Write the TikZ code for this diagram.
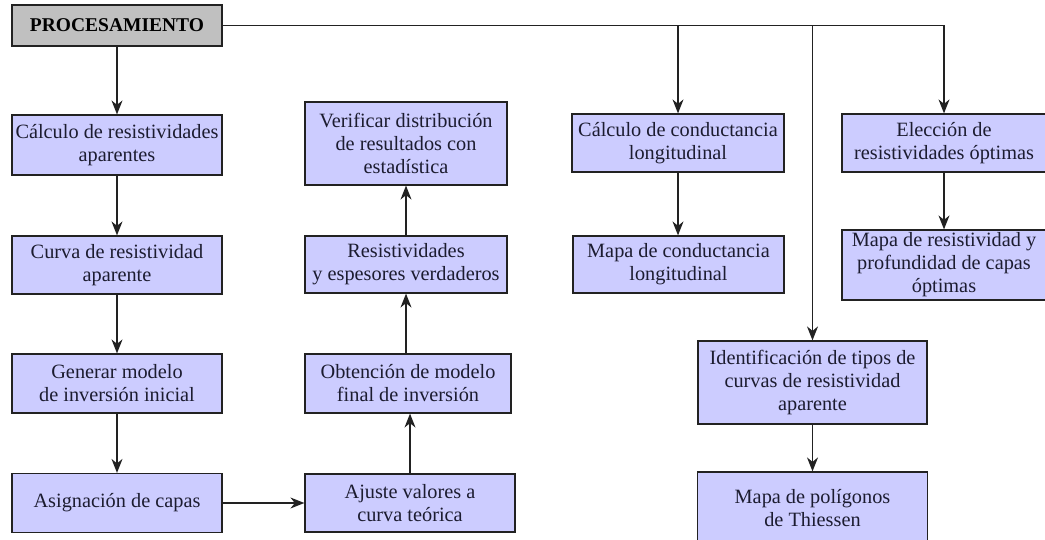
\documentclass[tikz,border=0pt]{standalone}
\usepackage{fontspec}
\setmainfont{Liberation Serif}
\newfontfamily\boxfont{Liberation Serif}
\usetikzlibrary{arrows.meta}
\definecolor{boxfill}{HTML}{CCCCFF}
\definecolor{procfill}{HTML}{C0C0C0}
\definecolor{lncol}{HTML}{222222}
\definecolor{txtcol}{HTML}{1C1C30}
\begin{document}
\begin{tikzpicture}[x=1pt,y=-1pt,
  box/.style={draw=lncol, line width=1.2pt, fill=boxfill, align=center, inner sep=0pt, text=txtcol,
    font=\boxfont\fontsize{20.3}{23}\selectfont},
  sz/.style 2 args={minimum width=#1pt, minimum height=#2pt},
  arr/.style={-{Stealth[length=14pt,width=11pt,inset=4.5pt]}, line width=1.3pt, draw=lncol},
  ln/.style={line width=1.3pt, draw=lncol}]
\useasboundingbox (0,0) rectangle (1045,540);
\fill[white] (0,0) rectangle (1045,540);

% header
\node[box, fill=procfill, sz={210}{41}, text=black, font=\boxfont\bfseries\fontsize{19.5}{22}\selectfont] (proc) at (117,25.5) {PROCESAMIENTO};

% column 1
\node[box, sz={210}{60}] (c1a) at (117,145) {Cálculo de resistividades\\aparentes};
\node[box, sz={210}{58}] (c1b) at (117,265) {Curva de resistividad\\aparente};
\node[box, sz={210}{59}] (c1c) at (117,383.5) {Generar modelo\\de inversión inicial};
\node[box, sz={210}{59}] (c1d) at (117,503) {Asignación de capas};

% column 2
\node[box, sz={202}{83}] (c2a) at (406,143.5) {Verificar distribución\\de resultados con\\estadística};
\node[box, sz={202}{57}] (c2b) at (406,264.5) {Resistividades\\y espesores verdaderos};
\node[box, sz={206}{59}] (c2c) at (408,383.5) {Obtención de modelo\\final de inversión};
\node[box, sz={210}{58}] (c2d) at (410,503) {Ajuste valores a\\curva teórica};

% column 3
\node[box, sz={212}{58}] (c3a) at (678,143) {Cálculo de conductancia\\longitudinal};
\node[box, sz={211}{57}] (c3b) at (678.5,264.5) {Mapa de conductancia\\longitudinal};

% column 4
\node[box, sz={204}{58}] (c4a) at (944,143) {Elección de\\resistividades óptimas};
\node[box, sz={204}{70}] (c4b) at (944,265) {Mapa de resistividad y\\profundidad de capas\\óptimas};

% column 5
\node[box, sz={229}{83}] (c5a) at (812.5,382.5) {Identificación de tipos de\\curvas de resistividad\\aparente};
\node[box, sz={230}{72}] (c5b) at (812.5,508) {Mapa de polígonos\\de Thiessen};

% junctions on the top line
\coordinate (j3) at (678,25.5);
\coordinate (jm) at (812.5,25.5);
\coordinate (j4) at (944,25.5);

% connectors
\draw[ln] (proc.east) -- (j4);
\draw[arr] (j3) -- (j3 |- c3a.north);
\draw[arr] (jm) -- (c5a.north);
\draw[arr] (j4) -- (c4a.north);

\draw[arr] (proc.south) -- (c1a.north);
\draw[arr] (c1a.south) -- (c1b.north);
\draw[arr] (c1b.south) -- (c1c.north);
\draw[arr] (c1c.south) -- (c1d.north);
\draw[arr] (c1d.east) -- (c2d.west);
\draw[arr] (c2d.north) -- (c2d.north |- c2c.south);
\draw[arr] (c2b.south |- c2c.north) -- (c2b.south);
\draw[arr] (c2b.north) -- (c2a.south);

\draw[arr] (c3a.south) -- (c3b.north -| c3a.south);
\draw[arr] (c4a.south) -- (c4b.north);
\draw[arr] (c5a.south) -- (c5b.north);
\end{tikzpicture}
\end{document}
